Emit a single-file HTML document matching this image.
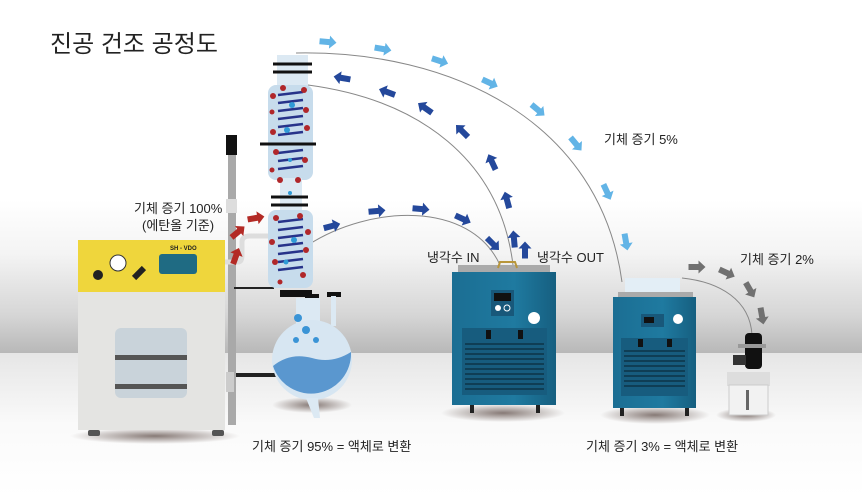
<!DOCTYPE html>
<html><head><meta charset="utf-8"><style>
html,body{margin:0;padding:0;width:862px;height:496px;overflow:hidden;background:#fff}
svg{display:block}
text{font-family:"Liberation Sans","Noto Sans CJK KR",sans-serif;fill:#222}
</style></head><body>
<svg width="862" height="496" viewBox="0 0 862 496" xmlns="http://www.w3.org/2000/svg">
<defs>
<linearGradient id="wall" x1="0" y1="0" x2="0" y2="1">
<stop offset="0" stop-color="#ffffff"/><stop offset="0.35" stop-color="#f4f4f4"/><stop offset="0.75" stop-color="#d6d6d6"/><stop offset="1" stop-color="#b8b8b8"/>
</linearGradient>
<linearGradient id="floor" x1="0" y1="0" x2="0" y2="1">
<stop offset="0" stop-color="#e6e6e6"/><stop offset="0.5" stop-color="#fafafa"/><stop offset="1" stop-color="#ffffff"/>
</linearGradient>
<linearGradient id="teal" x1="0" y1="0" x2="1" y2="0">
<stop offset="0" stop-color="#1b6e93"/><stop offset="0.6" stop-color="#1f7aa0"/><stop offset="1" stop-color="#165f80"/>
</linearGradient>
<radialGradient id="shadow"><stop offset="0" stop-color="#6a5a55" stop-opacity="0.8"/><stop offset="1" stop-color="#6a5a55" stop-opacity="0"/></radialGradient>
<polygon id="arr" points="-8.5,-3 1.5,-3 1.5,-6.5 8.5,0 1.5,6.5 1.5,3 -8.5,3"/>
</defs>
<rect x="0" y="0" width="862" height="260" fill="#fff"/>
<rect x="0" y="200" width="862" height="153" fill="url(#wall)"/>
<rect x="0" y="353" width="862" height="143" fill="url(#floor)"/>

<text x="50" y="52" font-size="24">진공 건조 공정도</text>

<ellipse cx="155" cy="436" rx="85" ry="8" fill="url(#shadow)"/>
<ellipse cx="312" cy="405" rx="40" ry="8" fill="url(#shadow)"/>
<ellipse cx="503" cy="413" rx="62" ry="9" fill="url(#shadow)"/>
<ellipse cx="655" cy="415" rx="55" ry="9" fill="url(#shadow)"/>
<ellipse cx="746" cy="415" rx="30" ry="7" fill="url(#shadow)"/>

<g fill="none" stroke="#888" stroke-width="1">
<path d="M296,53 C450,50 600,120 622,282"/>
<path d="M308,85 C420,100 500,160 513,265"/>
<path d="M308,245 C370,205 470,200 500,265"/>
<path d="M682,278 C720,282 750,300 752,335"/>
</g>

<rect x="228" y="150" width="8" height="275" fill="#a9a9a9"/>
<rect x="226" y="135" width="11" height="20" fill="#111"/>
<rect x="226" y="199" width="11" height="14" fill="#ddd"/>
<rect x="226" y="372" width="8" height="20" fill="#ccc"/>
<rect x="234" y="287" width="40" height="2" fill="#222"/>
<rect x="236" y="373" width="110" height="4" fill="#222"/>
<path d="M225,262 L238,262 Q242,262 242,255 L242,242 Q242,236 250,236 L270,236" fill="none" stroke="#ddd" stroke-width="5"/>

<rect x="78" y="240" width="147" height="52" fill="#efd63c"/>
<rect x="78" y="292" width="147" height="138" fill="#e4e4e2"/>
<rect x="115" y="328" width="72" height="70" rx="6" fill="#c9d3da"/>
<rect x="115" y="355" width="72" height="5" fill="#555"/>
<rect x="115" y="384" width="72" height="5" fill="#555"/>
<circle cx="98" cy="275" r="5" fill="#222"/>
<circle cx="118" cy="263" r="8" fill="#fff" stroke="#333"/>
<rect x="136" y="266" width="6" height="14" fill="#222" transform="rotate(45 139 273)"/>
<rect x="159" y="254" width="38" height="20" rx="3" fill="#1f6b83"/>
<text x="170" y="250" font-size="6" font-weight="bold">SH - VDO</text>
<rect x="88" y="430" width="12" height="6" rx="2" fill="#555"/>
<rect x="212" y="430" width="12" height="6" rx="2" fill="#555"/>

<g>
<rect x="277" y="55" width="31" height="32" fill="#dce9f3"/>
<rect x="268" y="85" width="45" height="95" rx="8" fill="#c7dcec"/>
<rect x="280" y="178" width="22" height="35" fill="#dce9f3"/>
<rect x="268" y="210" width="45" height="78" rx="8" fill="#c7dcec"/>
<g stroke="#111" stroke-width="3">
<line x1="273" y1="64" x2="312" y2="64"/><line x1="273" y1="72" x2="312" y2="72"/>
<line x1="260" y1="144" x2="316" y2="144"/>
<line x1="271" y1="197" x2="308" y2="197"/><line x1="271" y1="205" x2="308" y2="205"/>
</g>
<g stroke="#27338a" stroke-width="2.5">
<line x1="278" y1="95" x2="303" y2="92"/><line x1="278" y1="103" x2="303" y2="100"/><line x1="278" y1="111" x2="303" y2="108"/><line x1="278" y1="119" x2="303" y2="116"/><line x1="278" y1="127" x2="303" y2="124"/><line x1="278" y1="135" x2="303" y2="132"/>
<line x1="278" y1="153" x2="303" y2="150"/><line x1="278" y1="161" x2="303" y2="158"/><line x1="278" y1="169" x2="303" y2="166"/>
<line x1="278" y1="222" x2="303" y2="219"/><line x1="278" y1="230" x2="303" y2="227"/><line x1="278" y1="238" x2="303" y2="235"/><line x1="278" y1="246" x2="303" y2="243"/><line x1="278" y1="254" x2="303" y2="251"/><line x1="278" y1="262" x2="303" y2="259"/><line x1="278" y1="270" x2="303" y2="267"/>
</g>
<g fill="#b0272a">
<circle cx="283" cy="88" r="3"/><circle cx="304" cy="90" r="3"/><circle cx="273" cy="96" r="3"/><circle cx="306" cy="110" r="3"/><circle cx="272" cy="112" r="2.5"/><circle cx="307" cy="128" r="3"/><circle cx="273" cy="132" r="3"/>
<circle cx="276" cy="152" r="3"/><circle cx="305" cy="160" r="3"/><circle cx="272" cy="170" r="2.5"/><circle cx="298" cy="180" r="3"/><circle cx="280" cy="180" r="3"/>
<circle cx="276" cy="218" r="3"/><circle cx="300" cy="216" r="3"/><circle cx="308" cy="232" r="3"/><circle cx="272" cy="242" r="3"/><circle cx="306" cy="250" r="3"/><circle cx="275" cy="262" r="3"/><circle cx="303" cy="275" r="3"/><circle cx="280" cy="282" r="2.5"/>
</g>
<g fill="#2f9ad6">
<circle cx="292" cy="105" r="3"/><circle cx="287" cy="130" r="3"/><circle cx="290" cy="160" r="2"/><circle cx="290" cy="193" r="2"/><circle cx="294" cy="240" r="3"/><circle cx="286" cy="262" r="2.5"/>
</g>
</g>

<rect x="280" y="290" width="32" height="7" fill="#111"/>
<rect x="305" y="294" width="14" height="5" fill="#111"/>
<rect x="327" y="292" width="14" height="5" fill="#111"/>
<rect x="296" y="298" width="24" height="40" fill="#dce9f3"/>
<rect x="331" y="296" width="5" height="30" fill="#dce9f3"/>
<circle cx="312" cy="360" r="40" fill="#d7e6f2"/>
<path d="M273,366 Q290,352 312,358 Q332,364 351,352 A40,40 0 0 1 273,366 Z" fill="#5a97cf"/>
<path d="M306,398 L314,418 L320,418 L318,398 Z" fill="#dce9f3"/>
<g fill="#3a94d6"><circle cx="298" cy="318" r="4"/><circle cx="306" cy="330" r="4"/><circle cx="316" cy="340" r="3"/><circle cx="296" cy="340" r="3"/></g>

<rect x="458" y="265" width="92" height="8" fill="#aaa"/>
<rect x="452" y="272" width="104" height="133" fill="url(#teal)"/>
<rect x="491" y="290" width="23" height="26" fill="#18587a"/>
<rect x="494" y="293" width="17" height="8" fill="#111"/>
<circle cx="498" cy="308" r="3" fill="#fff"/><circle cx="507" cy="308" r="3" fill="none" stroke="#fff"/>
<circle cx="534" cy="318" r="6" fill="#fff"/>
<rect x="462" y="328" width="85" height="67" fill="#175c7e"/>
<g fill="#0f3e55"><rect x="465" y="343" width="79" height="2"/><rect x="465" y="348" width="79" height="2"/><rect x="465" y="353" width="79" height="2"/><rect x="465" y="358" width="79" height="2"/><rect x="465" y="363" width="79" height="2"/><rect x="465" y="368" width="79" height="2"/><rect x="465" y="373" width="79" height="2"/><rect x="465" y="378" width="79" height="2"/><rect x="465" y="383" width="79" height="2"/><rect x="465" y="388" width="79" height="2"/></g>
<rect x="486" y="330" width="5" height="9" fill="#111"/><rect x="518" y="330" width="5" height="9" fill="#111"/>
<rect x="470" y="405" width="4" height="8" fill="#222"/><rect x="536" y="405" width="4" height="8" fill="#222"/>
<path d="M498,268 L500,262 L515,262 L517,268" fill="none" stroke="#b8963b" stroke-width="2"/>

<rect x="625" y="278" width="55" height="16" fill="#e3eef6"/>
<rect x="618" y="292" width="75" height="6" fill="#aaa"/>
<rect x="613" y="297" width="83" height="111" fill="url(#teal)"/>
<rect x="641" y="314" width="23" height="13" fill="#18587a"/>
<rect x="644" y="317" width="10" height="6" fill="#111"/>
<circle cx="678" cy="319" r="5" fill="#fff"/>
<rect x="621" y="338" width="67" height="58" fill="#175c7e"/>
<g fill="#0f3e55"><rect x="624" y="350" width="61" height="2"/><rect x="624" y="355" width="61" height="2"/><rect x="624" y="360" width="61" height="2"/><rect x="624" y="365" width="61" height="2"/><rect x="624" y="370" width="61" height="2"/><rect x="624" y="375" width="61" height="2"/><rect x="624" y="380" width="61" height="2"/><rect x="624" y="385" width="61" height="2"/></g>
<rect x="638" y="339" width="5" height="8" fill="#111"/><rect x="667" y="339" width="5" height="8" fill="#111"/>
<rect x="620" y="408" width="4" height="8" fill="#222"/><rect x="685" y="408" width="4" height="8" fill="#222"/>

<rect x="745" y="333" width="17" height="36" rx="4" fill="#111"/>
<rect x="738" y="344" width="28" height="4" fill="#999"/>
<rect x="733" y="355" width="13" height="10" fill="#333"/>
<rect x="727" y="372" width="43" height="14" fill="#ddd"/>
<rect x="729" y="385" width="39" height="30" fill="#f2f2f2" stroke="#ccc"/>
<rect x="746" y="390" width="3" height="20" fill="#666"/>

<g fill="#62b4e6">
<use href="#arr" transform="translate(328,42) rotate(5)"/>
<use href="#arr" transform="translate(383,49) rotate(10)"/>
<use href="#arr" transform="translate(440,61) rotate(18)"/>
<use href="#arr" transform="translate(490,83) rotate(25)"/>
<use href="#arr" transform="translate(538,110) rotate(40)"/>
<use href="#arr" transform="translate(576,144) rotate(50)"/>
<use href="#arr" transform="translate(607,192) rotate(65)"/>
<use href="#arr" transform="translate(626,242) rotate(80)"/>
</g>
<g fill="#24489b">
<use href="#arr" transform="translate(342,78) rotate(190)"/>
<use href="#arr" transform="translate(387,92) rotate(200)"/>
<use href="#arr" transform="translate(425,108) rotate(215)"/>
<use href="#arr" transform="translate(462,131) rotate(225)"/>
<use href="#arr" transform="translate(492,162) rotate(245)"/>
<use href="#arr" transform="translate(507,200) rotate(255)"/>
<use href="#arr" transform="translate(514,239) rotate(265)"/>
<use href="#arr" transform="translate(525,250) rotate(270)"/>
<use href="#arr" transform="translate(332,226) rotate(-15)"/>
<use href="#arr" transform="translate(377,211) rotate(-5)"/>
<use href="#arr" transform="translate(421,209) rotate(5)"/>
<use href="#arr" transform="translate(463,219) rotate(25)"/>
<use href="#arr" transform="translate(493,244) rotate(45)"/>
</g>
<g fill="#b32a25">
<use href="#arr" transform="translate(236,256) rotate(-70)"/>
<use href="#arr" transform="translate(238,232) rotate(-40)"/>
<use href="#arr" transform="translate(256,218) rotate(-10)"/>
</g>
<g fill="#707070">
<use href="#arr" transform="translate(697,267) rotate(0)"/>
<use href="#arr" transform="translate(727,273) rotate(25)"/>
<use href="#arr" transform="translate(750,290) rotate(60)"/>
<use href="#arr" transform="translate(762,316) rotate(80)"/>
</g>

<text x="134" y="213" font-size="13">기체 증기 100%</text>
<text x="142" y="230" font-size="13">(에탄올 기준)</text>
<text x="604" y="144" font-size="13">기체 증기 5%</text>
<text x="427" y="262" font-size="13">냉각수 IN</text>
<text x="537" y="262" font-size="13">냉각수 OUT</text>
<text x="740" y="264" font-size="13">기체 증기 2%</text>
<text x="252" y="451" font-size="13">기체 증기 95% = 액체로 변환</text>
<text x="586" y="451" font-size="13">기체 증기 3% = 액체로 변환</text>
</svg>
</body></html>
